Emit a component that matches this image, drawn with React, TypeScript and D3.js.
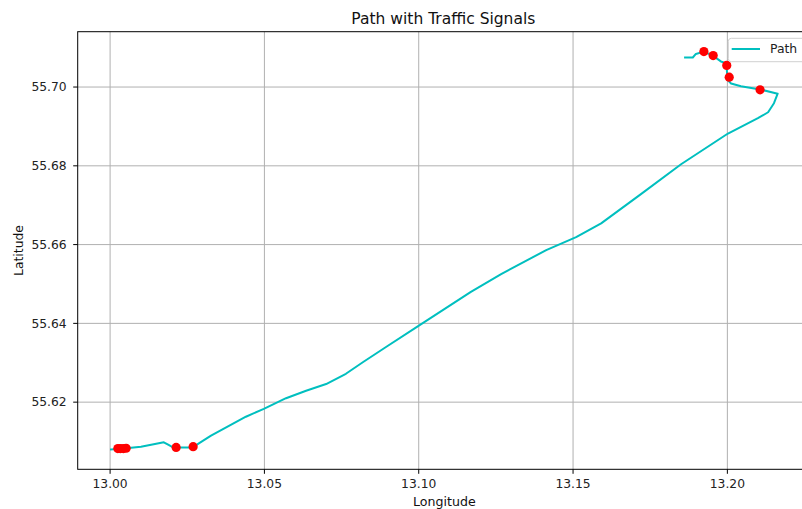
import React from "react";
import * as d3 from "d3";

// Route coordinates (longitude, latitude)
const pathLon = [
  13.0003, 13.0052, 13.0100, 13.0174, 13.0188, 13.0204, 13.0269, 13.0285, 13.0327, 13.0385,
  13.0440, 13.0498, 13.0570, 13.0635, 13.0700, 13.0764, 13.0820, 13.0894, 13.0998, 13.1169,
  13.1267, 13.1413, 13.1510, 13.1591, 13.1720, 13.1850, 13.2002, 13.2099, 13.2132, 13.2151,
  13.2163, 13.2106, 13.2044, 13.2012, 13.2002, 13.1999, 13.1997, 13.1979, 13.1954, 13.1924,
  13.1898, 13.1888, 13.1863,
];
const pathLat = [
  55.6080, 55.6083, 55.6087, 55.6098, 55.6092, 55.6085, 55.6085, 55.6094, 55.6115, 55.6140,
  55.6163, 55.6183, 55.6210, 55.6229, 55.6246, 55.6272, 55.6302, 55.6340, 55.6393, 55.6480,
  55.6525, 55.6586, 55.6619, 55.6654, 55.6728, 55.6804, 55.6882, 55.6921, 55.6936, 55.6959,
  55.6983, 55.6994, 55.7002, 55.7009, 55.7017, 55.7035, 55.7060, 55.7065, 55.7079, 55.7090,
  55.7084, 55.7075, 55.7075,
];

// Traffic signal locations
const signalLon = [13.0025, 13.0033, 13.0043, 13.0052, 13.0214, 13.0269, 13.1924, 13.1954, 13.1998, 13.2006, 13.2106];
const signalLat = [55.6082, 55.6082, 55.6082, 55.6083, 55.6085, 55.6087, 55.7090, 55.7080, 55.7055, 55.7025, 55.6993];

const xTicks = [13.0, 13.05, 13.1, 13.15, 13.2];
const yTicks = [55.62, 55.64, 55.66, 55.68, 55.7];

const W = 802;
const H = 509;
const left = 77.7;
const right = 811;
const top = 31.7;
const bottom = 469.3;
const FONT = "DejaVu Sans, sans-serif";
const LINE = "#00bfbf";

function padded(vals: number[]): [number, number] {
  const [lo, hi] = d3.extent(vals) as [number, number];
  const m = (hi - lo) * 0.05;
  return [lo - m, hi + m];
}

export default function App() {
  const x = d3.scaleLinear().domain(padded(pathLon.concat(signalLon))).range([left, right]);
  const y = d3.scaleLinear().domain(padded(pathLat.concat(signalLat))).range([bottom, top]);

  const pts: [number, number][] = pathLon.map((lon, i) => [lon, pathLat[i]]);
  const line = d3
    .line<[number, number]>()
    .x((d) => x(d[0]))
    .y((d) => y(d[1]));

  return (
    <svg
      width={W}
      height={H}
      style={{ position: "absolute", left: 0, top: 0, background: "#fff" }}
      fontFamily={FONT}
    >
      <rect x={0} y={0} width={W} height={H} fill="#fff" />
      {/* grid */}
      {xTicks.map((t) => (
        <line key={"gx" + t} x1={x(t)} x2={x(t)} y1={top} y2={bottom} stroke="#b0b0b0" strokeWidth={1} />
      ))}
      {yTicks.map((t) => (
        <line key={"gy" + t} x1={left} x2={right} y1={y(t)} y2={y(t)} stroke="#b0b0b0" strokeWidth={1} />
      ))}

      {/* route */}
      <path d={line(pts) ?? ""} fill="none" stroke={LINE} strokeWidth={2} strokeLinejoin="round" strokeLinecap="square" />

      {/* signals */}
      {signalLon.map((lon, i) => (
        <circle key={"s" + i} cx={x(lon)} cy={y(signalLat[i])} r={4.6} fill="#ff0000" />
      ))}

      {/* spines */}
      <rect x={left} y={top} width={right - left} height={bottom - top} fill="none" stroke="#000" strokeWidth={1} />

      {/* x ticks */}
      {xTicks.map((t) => (
        <g key={"xt" + t}>
          <line x1={x(t)} x2={x(t)} y1={bottom} y2={bottom + 4.5} stroke="#000" strokeWidth={1} />
          <text x={x(t)} y={bottom + 18.3} textAnchor="middle" fontSize={12.3} fill="#222">
            {t.toFixed(2)}
          </text>
        </g>
      ))}
      {/* y ticks */}
      {yTicks.map((t) => (
        <g key={"yt" + t}>
          <line x1={left - 4.5} x2={left} y1={y(t)} y2={y(t)} stroke="#000" strokeWidth={1} />
          <text x={left - 11} y={y(t)} dy="0.35em" textAnchor="end" fontSize={12.3} fill="#222">
            {t.toFixed(2)}
          </text>
        </g>
      ))}

      {/* labels */}
      <text x={(left + right) / 2 - 1} y={23.5} textAnchor="middle" fontSize={15.5} fill="#111">
        Path with Traffic Signals
      </text>
      <text x={(left + right) / 2} y={506} textAnchor="middle" fontSize={12.6} fill="#111">
        Longitude
      </text>
      <text
        transform={`translate(22.7, ${(top + bottom) / 2}) rotate(-90)`}
        textAnchor="middle"
        fontSize={12.4}
        fill="#111"
      >
        Latitude
      </text>

      {/* legend */}
      <g>
        <rect x={728.3} y={38.3} width={90} height={23.4} rx={3} fill="#fff" fillOpacity={0.8} stroke="#d0d0d0" strokeWidth={1} />
        <line x1={731.7} x2={760} y1={49} y2={49} stroke={LINE} strokeWidth={2} />
        <text x={770} y={49} dy="0.35em" fontSize={12.4} fill="#222">
          Path
        </text>
      </g>
    </svg>
  );
}
